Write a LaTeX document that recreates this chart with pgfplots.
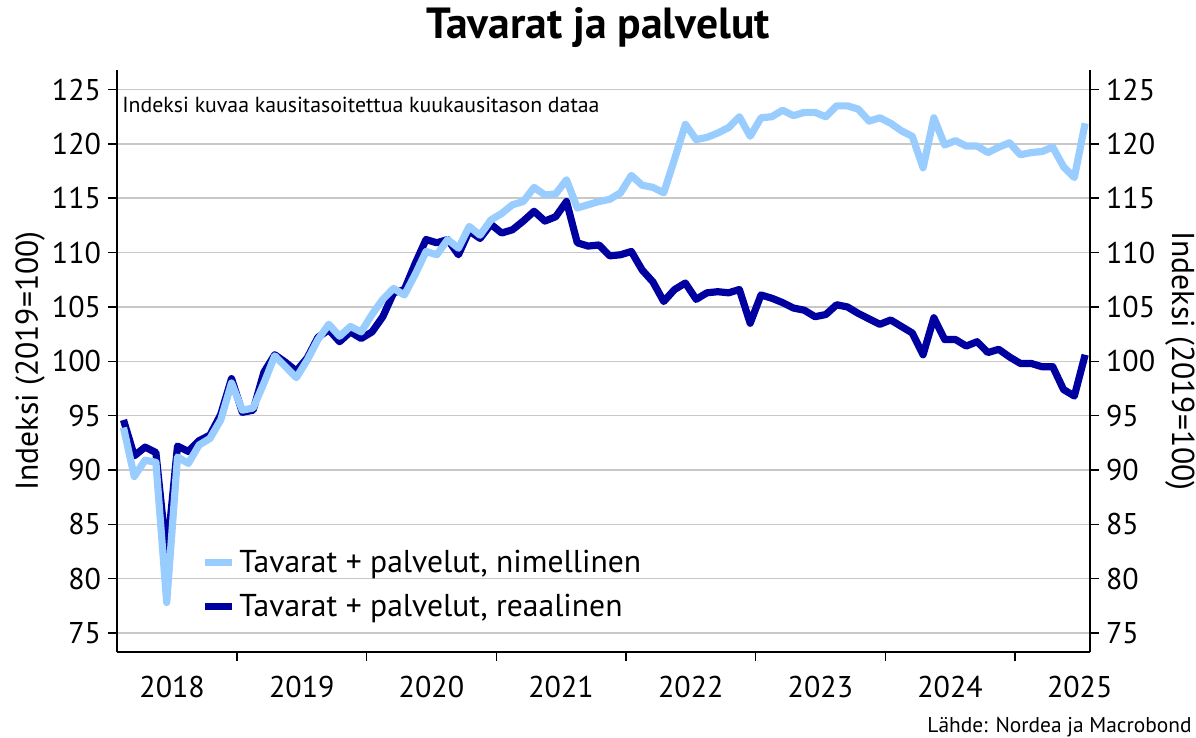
\documentclass[border=0pt]{standalone}
\usepackage{fontspec}
\setmainfont{PT Sans}
\usepackage{pgfplots}
\pgfplotsset{compat=1.18}
\usepackage{pgfplotstable}
\definecolor{nom}{RGB}{153,204,255}
\definecolor{real}{RGB}{0,0,160}
\definecolor{gridc}{RGB}{200,200,200}

\pgfplotstableread{
m nom real
1 93.9 94.6
2 89.4 91.3
3 90.9 92.1
4 90.7 91.6
5 77.8 82.0
6 91.2 92.2
7 90.6 91.7
8 92.3 92.7
9 92.9 93.2
10 94.6 95.1
11 98.0 98.4
12 95.5 95.3
13 95.7 95.5
14 98.0 99.0
15 100.5 100.6
16 99.5 99.9
17 98.5 99.1
18 100.1 100.3
19 102.0 102.2
20 103.4 102.9
21 102.3 101.8
22 103.2 102.7
23 102.7 102.1
24 104.3 102.7
25 105.7 104.1
26 106.7 106.3
27 106.1 106.6
28 108.0 109.0
29 110.1 111.2
30 109.8 110.9
31 111.2 111.2
32 110.4 109.8
33 112.4 112.0
34 111.6 111.3
35 113.0 112.6
36 113.6 111.8
37 114.4 112.1
38 114.7 112.9
39 116.0 113.8
40 115.3 112.9
41 115.4 113.3
42 116.7 114.7
43 114.1 110.9
44 114.4 110.6
45 114.7 110.7
46 114.9 109.7
47 115.5 109.8
48 117.1 110.1
49 116.2 108.4
50 116.0 107.3
51 115.5 105.5
52 118.6 106.6
53 121.8 107.2
54 120.4 105.7
55 120.6 106.3
56 121.0 106.4
57 121.5 106.3
58 122.5 106.6
59 120.7 103.5
60 122.4 106.1
61 122.5 105.8
62 123.1 105.4
63 122.6 104.9
64 122.9 104.7
65 122.9 104.1
66 122.5 104.3
67 123.5 105.2
68 123.5 105.0
69 123.2 104.4
70 122.1 103.9
71 122.4 103.4
72 121.9 103.8
73 121.2 103.2
74 120.7 102.6
75 117.8 100.6
76 122.4 104.0
77 119.9 102.0
78 120.3 102.0
79 119.8 101.4
80 119.8 101.8
81 119.2 100.8
82 119.7 101.1
83 120.1 100.4
84 119.0 99.8
85 119.2 99.8
86 119.3 99.5
87 119.7 99.5
88 117.9 97.4
89 116.9 96.8
90 121.9 100.6
}\data

\begin{document}
\begin{tikzpicture}
\path[use as bounding box] (-58.5bp,-43bp) rectangle (539.5bp,326bp);
\pgfplotsset{
  common/.style={
    at={(0bp,0bp)}, anchor=south west,
    scale only axis, width=486.5bp, height=291bp,
    xmin=0.4, xmax=90.45, ymin=73.25, ymax=126.8,
    ytick={75,80,85,90,95,100,105,110,115,120,125},
    tick align=outside, major tick length=4.5bp,
    tick style={black, line width=0.75bp},
    axis line style={black, line width=1bp},
    ticklabel style={font=\fontsize{15bp}{18bp}\selectfont},
    /pgf/number format/assume math mode=true,
  }
}
\begin{axis}[common,
  axis x line*=bottom, axis y line*=left,
  xtick={11.5,23.5,35.5,47.5,59.5,71.5,83.5},
  xticklabels={},
  extra x ticks={5.5,17.5,29.5,41.5,53.5,65.5,77.5,89.5},
  extra x tick labels={2018,2019,2020,2021,2022,2023,2024,2025},
  extra x tick style={major tick length=0pt, xticklabel style={yshift=-8.5bp}},
  ymajorgrids, grid style={gridc, line width=0.75bp},
  reverse legend,
  legend style={at={(0.08,0.19)}, anchor=north west, draw=none, fill=none,
    font=\fontsize{15.8bp}{18bp}\selectfont, row sep=5.5bp,
    legend cell align=left},
  legend image code/.code={\draw[#1, line width=3.6bp] (0bp,0bp) -- (13.5bp,0bp);},
]
\addplot[real, line width=3.6bp, line join=round] table[x=m, y=real] {\data};
\addlegendentry{Tavarat + palvelut, reaalinen}
\addplot[nom, line width=3.6bp, line join=round] table[x=m, y=nom] {\data};
\addlegendentry{Tavarat + palvelut, nimellinen}
\end{axis}
\begin{axis}[common,
  axis x line=none, axis y line*=right,
  xtick=\empty,
]
\end{axis}
\node[anchor=west, inner sep=0pt, font=\fontsize{10.9bp}{13bp}\selectfont] at (2.5bp,273.5bp) {Indeksi kuvaa kausitasoitettua kuukausitason dataa};
\node[font=\bfseries\fontsize{21.8bp}{26bp}\selectfont] at (240.5bp,312bp) {Tavarat ja palvelut};
\node[rotate=90, font=\fontsize{15.8bp}{18bp}\selectfont] at (-43.5bp,145.5bp) {Indeksi (2019=100)};
\node[rotate=-90, font=\fontsize{15.8bp}{18bp}\selectfont] at (531.5bp,145.5bp) {Indeksi (2019=100)};
\node[anchor=east, inner sep=0pt, font=\fontsize{10.7bp}{12bp}\selectfont] at (537.5bp,-37.5bp) {Lähde: Nordea ja Macrobond};
\end{tikzpicture}
\end{document}
